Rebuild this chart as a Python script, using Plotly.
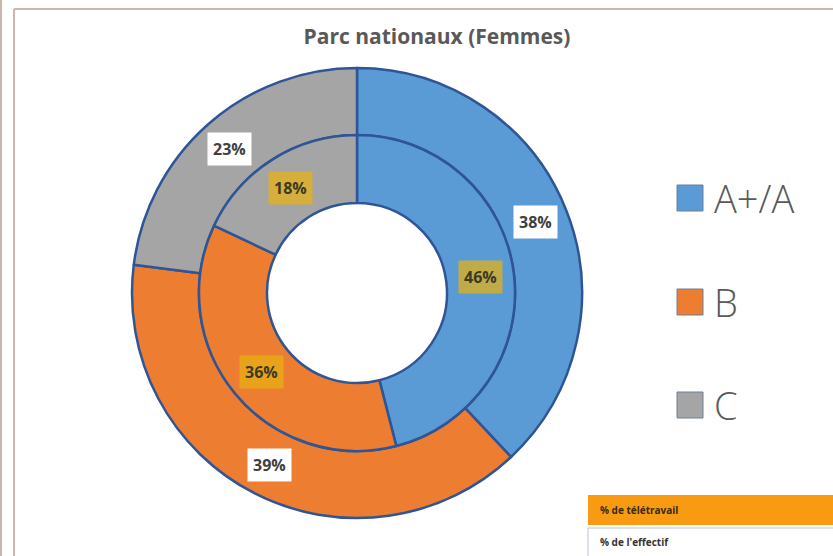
import math
import plotly.graph_objects as go

# data
categories = ["A+/A", "B", "C"]
outer_values = [38, 39, 23]   # outer ring
inner_values = [46, 36, 18]   # inner ring
colors = ["#5B9BD5", "#ED7D31", "#A5A5A5"]
title_text = "Parc nationaux (Femmes)"

W, H = 833, 556
CX, CY = 357, 293          # pie centre in pixels
R_OUT, R_MID, R_HOLE = 225, 158, 90
BORDER = "#2F5597"


def px(x):
    return x / W


def py(y):
    return 1 - y / H


def domain(r):
    return dict(x=[px(CX - r), px(CX + r)], y=[py(CY + r), py(CY - r)])


fig = go.Figure()

fig.add_trace(go.Pie(
    labels=categories, values=outer_values,
    domain=domain(R_OUT), hole=R_MID / R_OUT,
    sort=False, direction="clockwise", rotation=0,
    marker=dict(colors=colors, line=dict(color=BORDER, width=2.5)),
    textinfo="none", showlegend=False,
    hovertemplate="%{label}: %{value}%<extra></extra>"
))
fig.add_trace(go.Pie(
    labels=categories, values=inner_values,
    domain=domain(R_MID), hole=R_HOLE / R_MID,
    sort=False, direction="clockwise", rotation=0,
    marker=dict(colors=colors, line=dict(color=BORDER, width=2.5)),
    textinfo="none", showlegend=False,
    hovertemplate="%{label}: %{value}%<extra></extra>"
))


def add_ring_labels(values, radius, bg, fc):
    total = sum(values)
    start = 0
    for v in values:
        mid = (start + v / 2) / total * 2 * math.pi
        start += v
        x = CX + radius * math.sin(mid)
        y = CY - radius * math.cos(mid)
        fig.add_annotation(
            x=px(x), y=py(y), xref="paper", yref="paper",
            xanchor="center", yanchor="middle",
            text=f"<b>{v}%</b>", showarrow=False,
            font=dict(family="Open Sans", size=16, color=fc),
            bgcolor=bg, borderpad=5
        )


add_ring_labels(outer_values, (R_MID + R_OUT) / 2 + 1, "white", "#404040")
add_ring_labels(inner_values, (R_HOLE + R_MID) / 2, "rgba(232,178,20,0.72)", "#3D3A22")

# legend drawn by hand (big squares, wide spacing)
legend_y = [198, 302, 405]
for cat, col, ly in zip(categories, colors, legend_y):
    fig.add_shape(type="rect", xref="paper", yref="paper",
                  x0=px(677), x1=px(703), y0=py(ly + 13), y1=py(ly - 13),
                  fillcolor=col, line=dict(color="#6F7F9A", width=1))
    fig.add_annotation(x=px(712), y=py(ly), xref="paper", yref="paper",
                       text=cat, showarrow=False, xanchor="left", yanchor="middle",
                       font=dict(family="Open Sans", size=38, color="#595959",
                                 weight=300))

# chart frame
fig.add_shape(type="line", xref="paper", yref="paper",
              x0=px(14), x1=1, y0=py(9), y1=py(9),
              line=dict(color="#C9B7AC", width=2))
fig.add_shape(type="line", xref="paper", yref="paper",
              x0=px(14), x1=px(14), y0=0, y1=py(9),
              line=dict(color="#C9B7AC", width=2))
fig.add_shape(type="line", xref="paper", yref="paper",
              x0=px(1), x1=px(1), y0=0, y1=1,
              line=dict(color="#C9B7AC", width=2))

# table fragment bottom right
fig.add_shape(type="rect", xref="paper", yref="paper",
              x0=px(588), x1=1, y0=py(525), y1=py(495),
              fillcolor="#F99B12", line=dict(width=0))
fig.add_shape(type="rect", xref="paper", yref="paper",
              x0=px(588), x1=px(834), y0=py(557), y1=py(528),
              fillcolor="white", line=dict(color="#B9C3CF", width=1))
fig.add_annotation(x=px(598), y=py(510), xref="paper", yref="paper",
                   text="<b>% de télétravail</b>", showarrow=False,
                   xanchor="left", yanchor="middle",
                   font=dict(family="Open Sans", size=10, color="#3A2A10"))
fig.add_annotation(x=px(598), y=py(542), xref="paper", yref="paper",
                   text="<b>% de l'effectif</b>", showarrow=False,
                   xanchor="left", yanchor="middle",
                   font=dict(family="Open Sans", size=10, color="#333333"))

fig.update_layout(
    title=dict(text="<b>" + title_text + "</b>", x=437 / W, xanchor="center",
               y=py(37), yanchor="middle",
               font=dict(family="Open Sans", size=21, color="#595959")),
    width=W, height=H,
    margin=dict(l=0, r=0, t=0, b=0),
    paper_bgcolor="white",
    showlegend=False
)

fig.write_html("out.html", config={"displayModeBar": False},
               post_script="document.body.style.margin='0';")
